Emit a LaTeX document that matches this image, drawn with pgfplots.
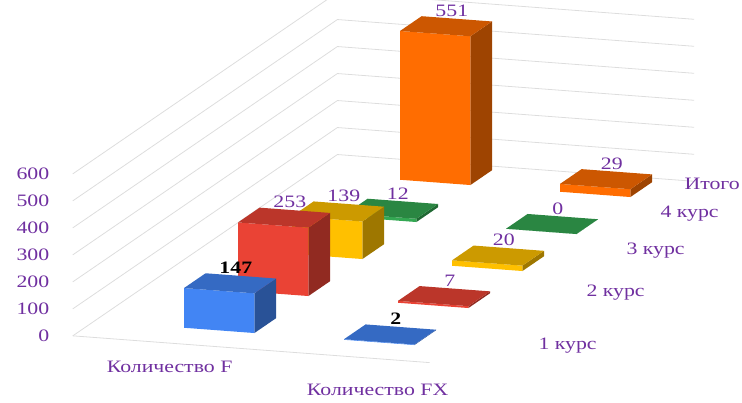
\documentclass[border=0pt]{standalone}
\usepackage{fontspec}
\setmainfont{Liberation Serif}[FakeStretch=1.25]
\usepackage{pgfplots}
\pgfplotsset{compat=1.18}
\definecolor{cBlue}{HTML}{4285F4}
\definecolor{cRed}{HTML}{EA4335}
\definecolor{cYellow}{HTML}{FFC000}
\definecolor{cGreen}{HTML}{34A853}
\definecolor{cOrange}{HTML}{FF6D01}
\definecolor{txt}{HTML}{7030A0}
\definecolor{gridc}{HTML}{DDDDDD}
\newcommand\lab{\fontsize{17.5}{19}\selectfont}
% 3D column: #1 category (x), #2 series (depth), #3 value, #4 colour
\newcommand{\cuboid}[4]{%
  \pgfmathsetmacro\xa{#1-0.22}\pgfmathsetmacro\xb{#1+0.22}%
  \pgfmathsetmacro\ya{#2-0.2}\pgfmathsetmacro\yb{#2+0.2}%
  \edef\tmp{%
    \noexpand\addplot3[draw=none,fill=#4!62!black] coordinates {(\xb,\ya,0) (\xb,\yb,0) (\xb,\yb,#3) (\xb,\ya,#3)};
    \noexpand\addplot3[draw=none,fill=#4] coordinates {(\xa,\ya,0) (\xb,\ya,0) (\xb,\ya,#3) (\xa,\ya,#3)};
    \noexpand\addplot3[draw=none,fill=#4!80!black] coordinates {(\xa,\ya,#3) (\xb,\ya,#3) (\xb,\yb,#3) (\xa,\yb,#3)};
  }\tmp}
\newcommand{\dl}[4]{\node[anchor=south,inner sep=0pt,xshift=-5bp,yshift=2bp,font=\lab,#4] at (axis cs:#1,#2+0.2,#3) {#3};}
\begin{document}
\begin{tikzpicture}
\useasboundingbox (0,0) rectangle (742bp,403bp);
\begin{axis}[
  at={(230bp,80bp)}, anchor=origin,
  x={(160bp,-12bp)}, y={(54bp,37bp)}, z={(0bp,0.27bp)},
  xmin=-0.78, xmax=1.45, ymin=-0.6, ymax=4.3, zmin=0, zmax=600,
  hide axis, clip=false,
]
% walls (grid) and floor edge
\pgfplotsinvokeforeach{0,100,...,600}{%
  \draw[gridc, line width=0.8bp] (axis cs:-0.78,-0.6,#1) -- (axis cs:-0.78,4.3,#1) -- (axis cs:1.45,4.3,#1);
  \node[anchor=east, text=txt, font=\lab, xshift=-20bp] at (axis cs:-0.78,-0.6,#1) {#1};
}
\draw[gridc, line width=0.8bp] (axis cs:-0.78,-0.6,0) -- (axis cs:1.45,-0.6,0);
% bars, back to front
\cuboid{0}{4}{551}{cOrange}
\cuboid{1}{4}{29}{cOrange}
\cuboid{0}{3}{12}{cGreen}
\cuboid{1}{3}{0}{cGreen}
\cuboid{0}{2}{139}{cYellow}
\cuboid{1}{2}{20}{cYellow}
\cuboid{0}{1}{253}{cRed}
\cuboid{1}{1}{7}{cRed}
\cuboid{0}{0}{147}{cBlue}
\cuboid{1}{0}{2}{cBlue}
% data labels
\dl{0}{4}{551}{text=txt}
\dl{1}{4}{29}{text=txt}
\dl{0}{3}{12}{text=txt}
\dl{1}{3}{0}{text=txt}
\dl{0}{2}{139}{text=txt}
\dl{1}{2}{20}{text=txt}
\dl{0}{1}{253}{text=txt}
\dl{1}{1}{7}{text=txt}
\dl{0}{0}{147}{text=black,font=\lab\bfseries}
\dl{1}{0}{2}{text=black,font=\lab\bfseries}
% category labels
\node[text=txt,font=\lab,xshift=-28bp,yshift=-22bp] at (axis cs:0,-0.6,0) {Количество F};
\node[text=txt,font=\lab,xshift=20bp,yshift=-33bp] at (axis cs:1,-0.6,0) {Количество FX};
% series labels
\node[text=txt,font=\lab,anchor=west,xshift=73bp,yshift=-5bp] at (axis cs:1.45,0,0) {1 курс};
\node[text=txt,font=\lab,anchor=west,xshift=67bp,yshift=11bp] at (axis cs:1.45,1,0) {2 курс};
\node[text=txt,font=\lab,anchor=west,xshift=53bp,yshift=16bp] at (axis cs:1.45,2,0) {3 курс};
\node[text=txt,font=\lab,anchor=west,xshift=33bp,yshift=16bp] at (axis cs:1.45,3,0) {4 курс};
\node[text=txt,font=\lab,anchor=west,xshift=3bp,yshift=9bp] at (axis cs:1.45,4,0) {Итого};
\end{axis}
\end{tikzpicture}
\end{document}
